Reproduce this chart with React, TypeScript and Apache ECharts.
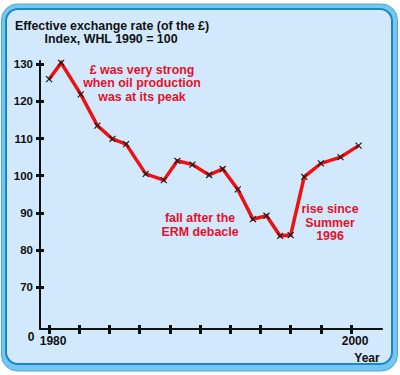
import React, { useEffect, useRef } from "react";
import * as echarts from "echarts";

// Data (year positions as drawn, index WHL 1990 = 100)
const years = [1980.0, 1980.8, 1982.1, 1983.2, 1984.2, 1985.1, 1986.4, 1987.6, 1988.5, 1989.5, 1990.6, 1991.5, 1992.5, 1993.5, 1994.4, 1995.3, 1996.0, 1996.9, 1998.0, 1999.3, 2000.5];
const indexValues = [126.0, 130.4, 121.9, 113.5, 109.9, 108.5, 100.5, 98.8, 104.0, 103.0, 100.2, 101.8, 96.3, 88.3, 89.2, 83.8, 84.0, 99.7, 103.3, 105.0, 108.1];
const xTickValues = [1980, 1982, 1984, 1986, 1988, 1990, 1992, 1994, 1996, 1998, 2000];
const xLabelValues = [1980, 2000];
const yTickValues = [70, 80, 90, 100, 110, 120, 130];
const titleLines = ["Effective exchange rate (of the £)", "Index, WHL 1990 = 100"];
const noteOil = "£ was very strong\nwhen oil production\nwas at its peak";
const noteErm = "fall after the\nERM debacle";
const noteRise = "rise since\nSummer\n1996";

const FONT = "'Liberation Sans', Arial, Helvetica, sans-serif";
const RED_TEXT = "#e6102a";
const RED_LINE = "#ee1111";
const INK = "#111111";

export default function App() {
  const ref = useRef<HTMLDivElement>(null);
  useEffect(() => {
    if (!ref.current) return;
    const chart = echarts.init(ref.current, undefined, { renderer: "svg" });
    const xMin = 1979.4, xMax = 2002.05, yMin = 58.7, yMax = 130.9;
    const noteStyle = (text: string) => ({
      text,
      fill: RED_TEXT,
      font: `bold 12.4px ${FONT}`,
      textAlign: "center",
      textVerticalAlign: "middle",
      lineHeight: 13.5,
    });
    chart.setOption({
      animation: false,
      backgroundColor: "#ffffff",
      grid: { left: 40, right: 18, top: 61, bottom: 46 },
      xAxis: [
        {
          type: "value", min: xMin, max: xMax, position: "bottom",
          axisLine: { show: true, onZero: false, lineStyle: { color: INK, width: 2 } },
          axisTick: { show: true, customValues: xTickValues, length: 5, lineStyle: { color: INK, width: 3 } },
          axisLabel: { show: true, customValues: xLabelValues, formatter: (v: number) => String(Math.round(v)), color: INK, fontWeight: "bold", fontSize: 12, fontFamily: FONT, margin: 6, padding: [0, 0, 0, 8] },
          splitLine: { show: false },
        },
        {
          type: "value", min: xMin, max: xMax, position: "bottom",
          axisLine: { show: false, onZero: false },
          axisTick: { show: true, inside: true, customValues: xTickValues, length: 4, lineStyle: { color: INK, width: 3 } },
          axisLabel: { show: false },
          splitLine: { show: false },
        },
      ],
      yAxis: [
        {
          type: "value", min: yMin, max: yMax, position: "left",
          axisLine: { show: true, onZero: false, lineStyle: { color: INK, width: 2 } },
          axisTick: { show: true, customValues: yTickValues, length: 4, lineStyle: { color: INK, width: 3 } },
          axisLabel: { show: true, customValues: yTickValues, formatter: (v: number) => String(Math.round(v)), color: INK, fontWeight: "bold", fontSize: 11.5, fontFamily: FONT, margin: 7 },
          splitLine: { show: false },
        },
        {
          type: "value", min: yMin, max: yMax, position: "left",
          axisLine: { show: false, onZero: false },
          axisTick: { show: true, inside: true, customValues: yTickValues, length: 4, lineStyle: { color: INK, width: 3 } },
          axisLabel: { show: false },
          splitLine: { show: false },
        },
      ],
      graphic: [
        {
          type: "rect", z: -10, silent: true,
          shape: { x: 1.5, y: 4, width: 396, height: 367, r: 16 },
          style: { fill: "#76c6f0", stroke: "#4aa8dc", lineWidth: 1 },
        },
        {
          type: "rect", z: -9, silent: true,
          shape: { x: 6, y: 9, width: 386, height: 355, r: 12 },
          style: { fill: "#d2e8fc", stroke: "#1a88c8", lineWidth: 2 },
        },
        { type: "text", x: 112, y: 26, style: { text: titleLines[0], fill: INK, font: `bold 12.4px ${FONT}`, textAlign: "center", textVerticalAlign: "middle" } },
        { type: "text", x: 111, y: 39, style: { text: titleLines[1], fill: INK, font: `bold 12.4px ${FONT}`, textAlign: "center", textVerticalAlign: "middle" } },
        { type: "text", x: 31, y: 337, style: { text: "0", fill: INK, font: `bold 12px ${FONT}`, textAlign: "center", textVerticalAlign: "middle" } },
        { type: "text", x: 367, y: 358, style: { text: "Year", fill: INK, font: `bold 12px ${FONT}`, textAlign: "center", textVerticalAlign: "middle" } },
        { type: "text", x: 142, y: 83, style: noteStyle(noteOil) },
        { type: "text", x: 200, y: 225, style: noteStyle(noteErm) },
        { type: "text", x: 330, y: 222.5, style: noteStyle(noteRise) },
      ],
      series: [
        {
          type: "line",
          xAxisIndex: 0,
          yAxisIndex: 0,
          data: years.map((y, i) => [y, indexValues[i]]),
          lineStyle: { color: RED_LINE, width: 3.5, join: "miter" },
          showSymbol: true,
          symbol: "path://M0,0L10,10M0,10L10,0",
          symbolSize: 6,
          itemStyle: { color: "rgba(0,0,0,0)", borderColor: "#1a1a1a", borderWidth: 1.2 },
          z: 5,
        },
      ],
    });
    return () => chart.dispose();
  }, []);
  return <div ref={ref} style={{ position: "fixed", left: 0, top: 0, width: 400, height: 375 }} />;
}
